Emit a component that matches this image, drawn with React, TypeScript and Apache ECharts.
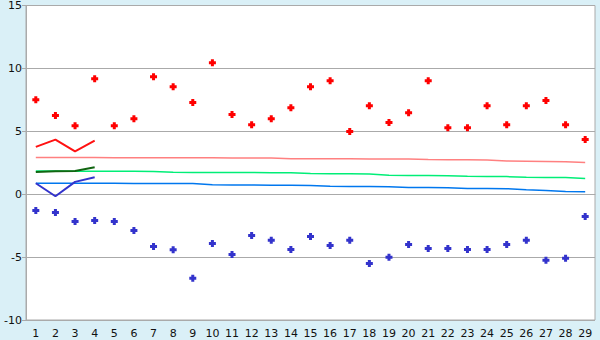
import React, { useEffect, useRef } from "react";
import * as echarts from "echarts";

const categories = ["1","2","3","4","5","6","7","8","9","10","11","12","13","14","15","16","17","18","19","20","21","22","23","24","25","26","27","28","29"];

const redPoints = [7.51, 6.25, 5.45, 9.18, 5.45, 6.0, 9.34, 8.55, 7.28, 10.45, 6.33, 5.53, 6.0, 6.88, 8.55, 9.02, 4.98, 7.04, 5.69, 6.48, 9.02, 5.29, 5.29, 7.04, 5.53, 7.04, 7.44, 5.53, 4.34];
const bluePoints = [-1.3, -1.46, -2.17, -2.09, -2.17, -2.88, -4.15, -4.42, -6.69, -3.92, -4.79, -3.28, -3.67, -4.39, -3.36, -4.07, -3.67, -5.5, -5.02, -3.99, -4.31, -4.31, -4.39, -4.39, -3.99, -3.67, -5.26, -5.1, -1.77];

const pinkLine = [2.91, 2.91, 2.91, 2.91, 2.9, 2.9, 2.9, 2.89, 2.89, 2.89, 2.88, 2.88, 2.87, 2.82, 2.82, 2.81, 2.81, 2.8, 2.8, 2.79, 2.75, 2.74, 2.74, 2.72, 2.64, 2.62, 2.6, 2.58, 2.52];
const greenLine = [1.84, 1.84, 1.83, 1.83, 1.82, 1.82, 1.81, 1.74, 1.73, 1.73, 1.72, 1.72, 1.71, 1.7, 1.64, 1.63, 1.62, 1.6, 1.5, 1.49, 1.48, 1.47, 1.42, 1.41, 1.4, 1.34, 1.33, 1.32, 1.25];
const blueLine = [0.88, 0.88, 0.87, 0.87, 0.87, 0.86, 0.86, 0.86, 0.85, 0.76, 0.74, 0.73, 0.72, 0.71, 0.7, 0.63, 0.62, 0.61, 0.6, 0.54, 0.53, 0.52, 0.45, 0.45, 0.44, 0.36, 0.3, 0.22, 0.2];

const redShort = [3.76, 4.34, 3.41, 4.26];
const greenShort = [1.77, 1.82, 1.84, 2.14];
const blueShort = [0.87, -0.16, 0.98, 1.35];

const yMin = -10;
const yMax = 15;
const yStep = 5;

const plus = "path://M2,0H5V2H7V5H5V7H2V5H0V2H2Z";

export default function App() {
  const ref = useRef<HTMLDivElement>(null);
  useEffect(() => {
    if (!ref.current) return;
    const chart = echarts.init(ref.current, undefined, { renderer: "svg" });
    const font = { fontFamily: "DejaVu Sans", fontSize: 11, color: "#111" };
    chart.setOption({
      animation: false,
      backgroundColor: "#daf0f7",
      grid: {
        left: 26, right: 5, top: 5, bottom: 20,
        show: true, backgroundColor: "#ffffff", borderColor: "#aaaaaa", borderWidth: 1,
      },
      xAxis: {
        type: "category",
        data: categories,
        boundaryGap: true,
        axisLine: { lineStyle: { color: "#aaaaaa" } },
        axisTick: { alignWithLabel: true, length: 5, lineStyle: { color: "#333" } },
        axisLabel: { ...font, margin: 8, interval: 0 },
        splitLine: { show: false },
      },
      yAxis: {
        type: "value",
        min: yMin, max: yMax, interval: yStep,
        axisLine: { show: true, lineStyle: { color: "#aaaaaa" } },
        axisTick: { show: true, length: 4, lineStyle: { color: "#aaaaaa" } },
        axisLabel: { ...font, margin: 4 },
        splitLine: { lineStyle: { color: "#aaaaaa", width: 1 } },
      },
      series: [
        { type: "line", data: pinkLine, symbol: "none", lineStyle: { color: "#ff8080", width: 1.5 }, z: 2 },
        { type: "line", data: greenLine, symbol: "none", lineStyle: { color: "#00ee77", width: 1.5 }, z: 2 },
        { type: "line", data: blueLine, symbol: "none", lineStyle: { color: "#0077ee", width: 1.5 }, z: 2 },
        { type: "line", data: redShort, symbol: "none", lineStyle: { color: "#ff1111", width: 2 }, z: 3 },
        { type: "line", data: greenShort, symbol: "none", lineStyle: { color: "#116611", width: 2 }, z: 3 },
        { type: "line", data: blueShort, symbol: "none", lineStyle: { color: "#3333cc", width: 2 }, z: 3 },
        { type: "scatter", data: redPoints, symbol: plus, symbolSize: 7, itemStyle: { color: "#ff0000", opacity: 1 }, z: 4 },
        { type: "scatter", data: bluePoints, symbol: plus, symbolSize: 7, itemStyle: { color: "#3333cc", opacity: 1 }, z: 4 },
      ],
    });
    return () => chart.dispose();
  }, []);
  return <div ref={ref} style={{ position: "fixed", left: 0, top: 0, width: 600, height: 340 }} />;
}
